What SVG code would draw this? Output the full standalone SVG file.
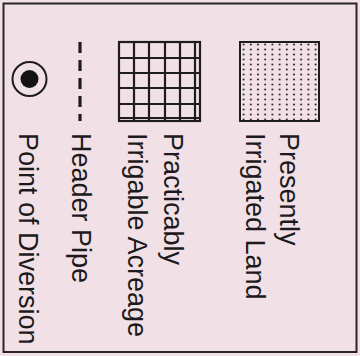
<svg xmlns="http://www.w3.org/2000/svg" width="360" height="356" viewBox="0 0 360 356">
  <style>
    .lbl { font-family: "Liberation Sans", Arial, sans-serif; font-size: 27px; fill: #1c1a1c; }
    .frame { fill: none; stroke: #2a2628; stroke-width: 2; }
    .ink { stroke: #1e1c1e; fill: none; }
  </style>
  <defs>
    <pattern id="stipple" x="240" y="42" width="7.2" height="5" patternUnits="userSpaceOnUse">
      <circle cx="3.6" cy="2.5" r="1.05" fill="#2e282c"/>
    </pattern>
  </defs>
  <rect x="0" y="0" width="360" height="356" fill="#f1e1e6"/>
  <rect class="frame" x="3.5" y="3.5" width="353" height="348.5"/>

  <g id="presently-irrigated">
    <rect x="240" y="42" width="79" height="79" fill="url(#stipple)"/>
    <rect class="ink" x="240" y="42" width="79" height="79" stroke-width="2"/>
    <text class="lbl" transform="translate(279.5,133) rotate(90)">Presently</text>
    <text class="lbl" transform="translate(246,133) rotate(90)">Irrigated Land</text>
  </g>

  <g id="practicably-irrigable">
    <rect class="ink" x="119" y="42" width="81" height="79" stroke-width="2.2"/>
    <path class="ink" stroke-width="2.2" d="M134,42V121M149,42V121M165,42V121M180,42V121M195,42V121M119,58H200M119,73H200M119,88H200M119,104H200M119,118H200"/>
    <text class="lbl" transform="translate(164,133) rotate(90)">Practicably</text>
    <text class="lbl" transform="translate(128,133) rotate(90)">Irrigable Acreage</text>
  </g>

  <g id="header-pipe">
    <line class="ink" x1="80" y1="42" x2="80" y2="121" stroke-width="3.2" stroke-dasharray="11 7"/>
    <text class="lbl" transform="translate(71.5,133) rotate(90)">Header Pipe</text>
  </g>

  <g id="point-of-diversion">
    <circle class="ink" cx="29.5" cy="79" r="17" stroke-width="2"/>
    <circle cx="29.5" cy="79" r="9" fill="#141214"/>
    <text class="lbl" transform="translate(18.5,133) rotate(90)">Point of Diversion</text>
  </g>

  <g id="connectors"></g>
</svg>
